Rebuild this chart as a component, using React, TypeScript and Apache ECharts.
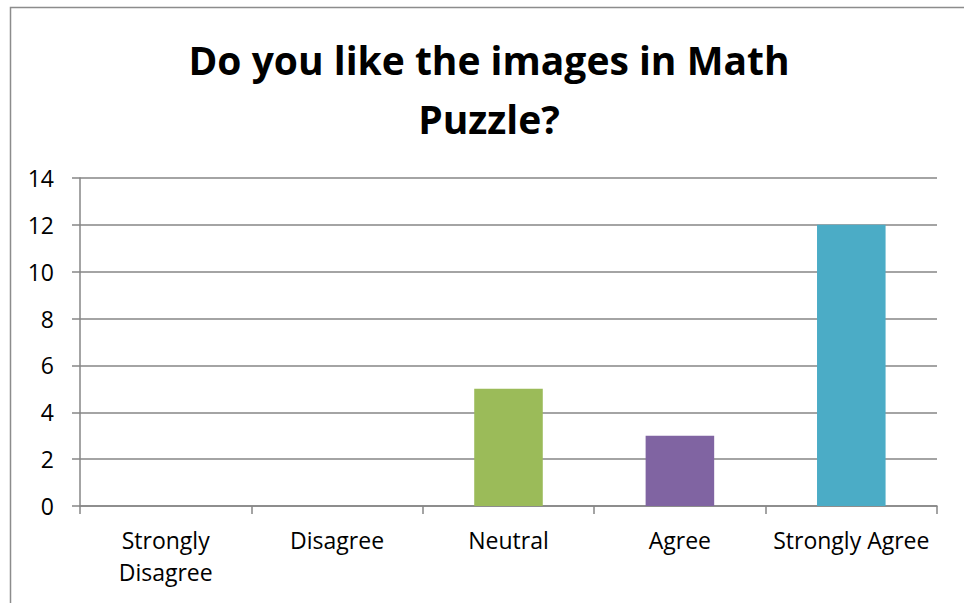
import React, { useEffect, useRef } from "react";
import * as echarts from "echarts";

const categories = ["Strongly\nDisagree", "Disagree", "Neutral", "Agree", "Strongly Agree"];
const values = [0, 0, 5, 3, 12];
const barColors = ["#4F81BD", "#C0504D", "#9BBB59", "#8064A2", "#4BACC6"];
const titleLines = ["Do you like the images in Math", "Puzzle?"];
const yMin = 0;
const yMax = 14;
const yStep = 2;

const FONT = "'Open Sans', sans-serif";

export default function App() {
  const ref = useRef<HTMLDivElement>(null);
  useEffect(() => {
    if (!ref.current) return;
    const chart = echarts.init(ref.current, undefined, { renderer: "svg" });
    chart.setOption({
      animation: false,
      backgroundColor: "#ffffff",
      graphic: [
        {
          type: "rect",
          shape: { x: 10.5, y: 7.5, width: 1200, height: 1200 },
          style: { fill: "none", stroke: "#8c8c8c", lineWidth: 1.5 },
          silent: true,
        },
        {
          type: "text",
          x: 489,
          y: 59,
          style: {
            text: titleLines[0],
            fill: "#000",
            font: `bold 39px ${FONT}`,
            textAlign: "center",
            textVerticalAlign: "middle",
          },
        },
        {
          type: "text",
          x: 489,
          y: 118,
          style: {
            text: titleLines[1],
            fill: "#000",
            font: `bold 39px ${FONT}`,
            textAlign: "center",
            textVerticalAlign: "middle",
          },
        },
      ],
      grid: { left: 80, right: 27, top: 178, bottom: 97, containLabel: false },
      xAxis: {
        type: "category",
        data: categories,
        axisLine: { lineStyle: { color: "#868686", width: 1.5 } },
        axisTick: { show: true, length: 8, lineStyle: { color: "#868686", width: 1.5 } },
        axisLabel: {
          color: "#000",
          fontFamily: FONT,
          fontSize: 23,
          lineHeight: 32,
          margin: 18,
          interval: 0,
        },
        splitLine: { show: false },
      },
      yAxis: {
        type: "value",
        min: yMin,
        max: yMax,
        interval: yStep,
        axisLine: { show: true, lineStyle: { color: "#868686", width: 1.5 } },
        axisTick: { show: true, length: 8, lineStyle: { color: "#868686", width: 1.5 } },
        axisLabel: { color: "#000", fontFamily: FONT, fontSize: 23, margin: 26 },
        splitLine: { show: true, lineStyle: { color: "#868686", width: 1.5 } },
      },
      series: [
        {
          type: "bar",
          barWidth: "40%",
          data: values.map((v, i) => ({ value: v, itemStyle: { color: barColors[i] } })),
        },
      ],
    });
    return () => chart.dispose();
  }, []);
  return (
    <div
      ref={ref}
      style={{ position: "fixed", left: 0, top: 0, width: 964, height: 603, background: "#fff" }}
    />
  );
}
